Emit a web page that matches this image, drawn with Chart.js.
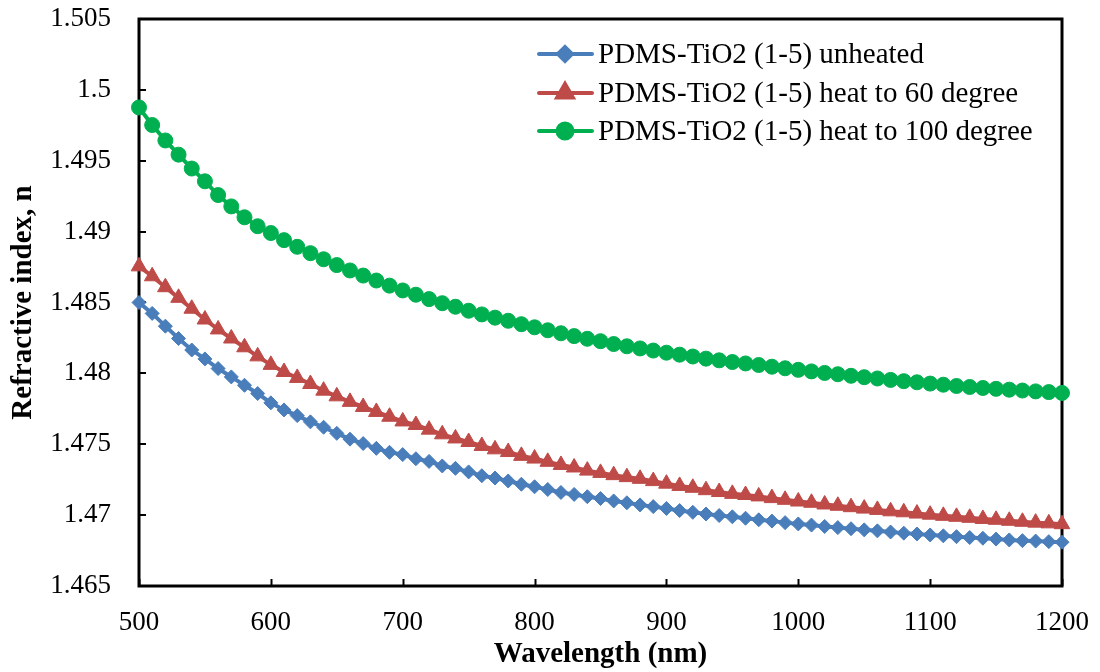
<!DOCTYPE html>
<html>
<head>
<meta charset="utf-8">
<script src="https://cdn.jsdelivr.net/npm/chart.js@4.4.1/dist/chart.umd.min.js"></script>
<style>
  html, body { margin: 0; padding: 0; background: #ffffff; }
  #wrap { width: 1100px; height: 672px; }
</style>
</head>
<body>
<div id="wrap"><canvas id="c" width="1100" height="672"></canvas></div>
<script>
const wavelengths = [500,510,520,530,540,550,560,570,580,590,600,610,620,630,640,650,660,670,680,690,700,710,720,730,740,750,760,770,780,790,800,810,820,830,840,850,860,870,880,890,900,910,920,930,940,950,960,970,980,990,1000,1010,1020,1030,1040,1050,1060,1070,1080,1090,1100,1110,1120,1130,1140,1150,1160,1170,1180,1190,1200];

const unheated = [1.48500,1.48423,1.48333,1.48246,1.48165,1.48102,1.48034,1.47975,1.47916,1.47858,1.47792,1.47742,1.47702,1.47658,1.47620,1.47577,1.47536,1.47505,1.47471,1.47443,1.47427,1.47398,1.47379,1.47347,1.47330,1.47305,1.47278,1.47262,1.47241,1.47218,1.47200,1.47181,1.47160,1.47146,1.47130,1.47117,1.47100,1.47087,1.47072,1.47060,1.47047,1.47032,1.47020,1.47008,1.46997,1.46988,1.46978,1.46967,1.46958,1.46947,1.46938,1.46930,1.46920,1.46912,1.46904,1.46896,1.46889,1.46881,1.46873,1.46867,1.46860,1.46854,1.46848,1.46842,1.46837,1.46831,1.46825,1.46820,1.46817,1.46813,1.46809];

const heat60 = [1.48755,1.48685,1.48608,1.48533,1.48456,1.48380,1.48310,1.48246,1.48184,1.48120,1.48060,1.48010,1.47968,1.47925,1.47878,1.47838,1.47799,1.47763,1.47728,1.47694,1.47661,1.47636,1.47603,1.47570,1.47541,1.47516,1.47488,1.47464,1.47445,1.47418,1.47399,1.47376,1.47354,1.47336,1.47314,1.47298,1.47282,1.47268,1.47256,1.47240,1.47222,1.47206,1.47193,1.47176,1.47163,1.47150,1.47142,1.47132,1.47120,1.47108,1.47096,1.47087,1.47075,1.47066,1.47056,1.47046,1.47037,1.47027,1.47020,1.47011,1.47003,1.46995,1.46988,1.46981,1.46973,1.46967,1.46960,1.46953,1.46947,1.46942,1.46936];

const heat100 = [1.49876,1.49752,1.49643,1.49543,1.49445,1.49355,1.49258,1.49178,1.49101,1.49038,1.48990,1.48940,1.48893,1.48848,1.48805,1.48764,1.48726,1.48690,1.48655,1.48619,1.48585,1.48555,1.48524,1.48495,1.48470,1.48442,1.48416,1.48393,1.48371,1.48347,1.48325,1.48304,1.48283,1.48263,1.48244,1.48227,1.48207,1.48191,1.48176,1.48161,1.48146,1.48132,1.48119,1.48104,1.48092,1.48080,1.48070,1.48059,1.48047,1.48036,1.48025,1.48014,1.48003,1.47994,1.47983,1.47973,1.47964,1.47954,1.47945,1.47937,1.47928,1.47920,1.47911,1.47904,1.47897,1.47891,1.47885,1.47879,1.47873,1.47868,1.47862];

const seriesLabels = ['PDMS-TiO2 (1-5) unheated', 'PDMS-TiO2 (1-5) heat to 60 degree', 'PDMS-TiO2 (1-5) heat to 100 degree'];
const xTicks = [500,600,700,800,900,1000,1100,1200];
const yTicks = [1.465,1.47,1.475,1.48,1.485,1.49,1.495,1.5,1.505];

const SERIF = '"Liberation Serif", "Times New Roman", serif';
const colors = ['#4A7EBB', '#BE4B48', '#00B050'];
const styles = ['rectRot', 'triangle', 'circle'];
const radii = [7, 9, 7.5];

function pts(vals) { return wavelengths.map((w, i) => ({ x: w, y: vals[i] })); }

const datasets = [unheated, heat60, heat100].map((vals, i) => ({
  label: seriesLabels[i],
  data: pts(vals),
  borderColor: colors[i],
  backgroundColor: colors[i],
  borderWidth: 4,
  pointStyle: styles[i],
  pointRadius: radii[i],
  pointHoverRadius: radii[i],
  pointBackgroundColor: colors[i],
  pointBorderColor: colors[i],
  pointBorderWidth: 1,
  tension: 0,
  clip: false
}));

function noPad(s) { s.paddingTop = 0; s.paddingBottom = 0; s.paddingLeft = 0; s.paddingRight = 0; }

const framePlugin = {
  id: 'frame',
  beforeDatasetsDraw(chart) {
    const { ctx, chartArea: a, scales } = chart;
    ctx.save();
    ctx.strokeStyle = '#000';
    ctx.lineWidth = 2;
    xTicks.forEach(v => {
      const x = Math.round(scales.x.getPixelForValue(v)) + 0.5;
      ctx.beginPath(); ctx.moveTo(x, a.bottom); ctx.lineTo(x, a.bottom - 7); ctx.stroke();
    });
    yTicks.forEach(v => {
      const y = Math.round(scales.y.getPixelForValue(v));
      ctx.beginPath(); ctx.moveTo(a.left, y); ctx.lineTo(a.left + 7, y); ctx.stroke();
    });
    ctx.lineWidth = 3;
    ctx.strokeRect(a.left, a.top, a.right - a.left, a.bottom - a.top);
    ctx.restore();
  },
  afterDraw(chart) {
    const { ctx } = chart;
    ctx.save();
    const rows = [54, 93, 131];
    chart.data.datasets.forEach((ds, i) => {
      const y = rows[i];
      ctx.strokeStyle = ds.borderColor;
      ctx.lineWidth = 4;
      ctx.lineCap = 'round';
      ctx.beginPath(); ctx.moveTo(539, y); ctx.lineTo(592, y); ctx.stroke();
      ctx.fillStyle = ds.pointBackgroundColor;
      Chart.helpers.drawPoint(ctx, { pointStyle: ds.pointStyle, radius: ds.pointRadius, borderWidth: 1, rotation: 0 }, 565, y);
      ctx.fill();
      ctx.fillStyle = '#000';
      ctx.font = '29px ' + SERIF;
      ctx.textBaseline = 'middle';
      ctx.textAlign = 'left';
      ctx.fillText(ds.label, 598, y + 1);
    });
    ctx.restore();
  }
};

new Chart(document.getElementById('c'), {
  type: 'line',
  data: { datasets },
  options: {
    responsive: false,
    animation: false,
    devicePixelRatio: 1,
    layout: { padding: { left: 0, right: 38, top: 19, bottom: 0 } },
    plugins: { legend: { display: false }, tooltip: { enabled: false } },
    scales: {
      x: {
        type: 'linear',
        min: 500, max: 1200,
        afterBuildTicks: s => { s.ticks = xTicks.map(v => ({ value: v })); },
        afterFit: s => { s.height = 86; noPad(s); },
        grid: { display: false, drawTicks: false },
        border: { display: false },
        ticks: { color: '#000', font: { family: SERIF, size: 27 }, padding: 21, maxRotation: 0,
                 callback: v => String(v) },
        title: { display: true, text: 'Wavelength (nm)', color: '#000',
                 font: { family: SERIF, size: 29, weight: 'bold' }, padding: { top: 0, bottom: 0 } }
      },
      y: {
        type: 'linear',
        min: 1.465, max: 1.505,
        afterBuildTicks: s => { s.ticks = yTicks.map(v => ({ value: v })); },
        afterFit: s => { s.width = 139; noPad(s); },
        grid: { display: false, drawTicks: false },
        border: { display: false },
        ticks: { color: '#000', font: { family: SERIF, size: 27 }, padding: 28,
                 callback: v => String(Number(v.toFixed(3))) },
        title: { display: true, text: 'Refractive index, n', color: '#000',
                 font: { family: SERIF, size: 29, weight: 'bold' }, padding: { top: 6, bottom: 0 } }
      }
    }
  },
  plugins: [framePlugin]
});
</script>
</body>
</html>
